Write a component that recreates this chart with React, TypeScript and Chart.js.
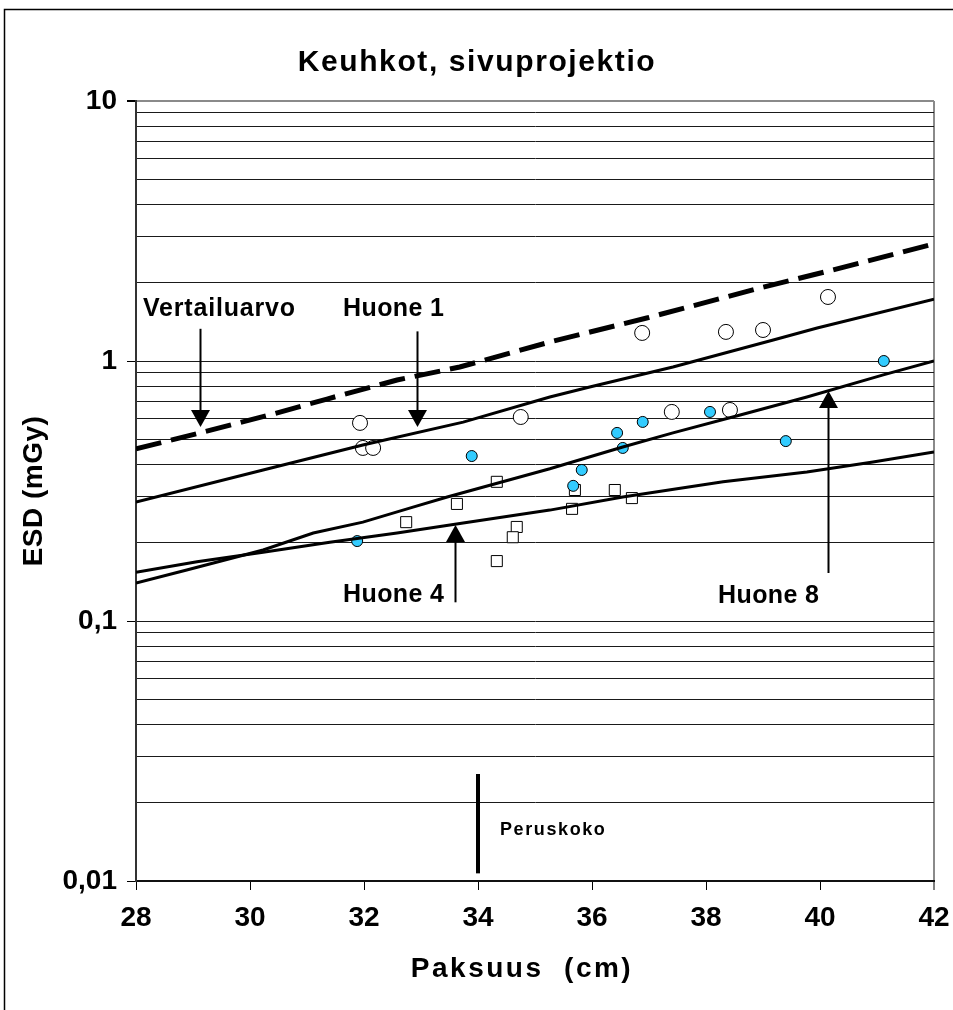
import React, { useEffect, useRef } from 'react';
import { Chart, registerables } from 'chart.js';

Chart.register(...registerables);

const FONT = "'Liberation Sans', Arial, sans-serif";

// Axes
const X_MIN = 28;
const X_MAX = 42;
const X_STEP = 2;
const Y_MIN = 0.01;
const Y_MAX = 10;
const Y_DECADES = [0.01, 0.1, 1];
const Y_MULTIPLIERS = [1, 2, 3, 4, 5, 6, 7, 8, 9];
const Y_MAJOR_VALUES = [0.01, 0.1, 1, 10];
const Y_MAJOR_LABELS = ['0,01', '0,1', '1', '10'];

// Huone 1 (open circles)
const HUONE1_X = [31.93, 31.98, 32.16, 34.75, 36.88, 37.4, 38.35, 38.42, 39.0, 40.14];
const HUONE1_Y = [0.578, 0.463, 0.463, 0.609, 1.282, 0.637, 1.294, 0.648, 1.316, 1.763];

// Huone 8 (cyan circles)
const HUONE8_X = [31.88, 33.89, 35.67, 35.82, 36.44, 36.54, 36.89, 38.07, 39.4, 41.12];
const HUONE8_Y = [0.203, 0.431, 0.331, 0.381, 0.529, 0.463, 0.583, 0.637, 0.492, 1.0];

// Huone 4 (open squares)
const HUONE4_X = [32.74, 33.63, 34.33, 34.68, 34.61, 34.33, 35.7, 35.65, 36.4, 36.7];
const HUONE4_Y = [0.24, 0.282, 0.343, 0.23, 0.21, 0.17, 0.319, 0.27, 0.319, 0.297];

// Fitted lines
const VERT_LINE_X = [28, 29.12, 30.4, 31.35, 32.58, 33.68, 35.26, 36.96, 38.95, 40.23, 42];
const VERT_LINE_Y = [0.459, 0.529, 0.625, 0.714, 0.845, 0.948, 1.183, 1.463, 1.91, 2.24, 2.82];

const H1_LINE_X = [28, 30.23, 31.98, 33.74, 35.26, 35.96, 37.42, 39.18, 39.95, 42];
const H1_LINE_Y = [0.287, 0.381, 0.475, 0.582, 0.727, 0.794, 0.948, 1.205, 1.34, 1.73];

const H8_LINE_X = [28, 28.89, 30.23, 31.11, 31.98, 32.86, 33.46, 35.26, 36.54, 37.42, 38.6, 39.77, 41.11, 42];
const H8_LINE_Y = [0.14, 0.157, 0.1875, 0.218, 0.24, 0.274, 0.3, 0.385, 0.467, 0.529, 0.62, 0.727, 0.884, 1.0];

const H4_LINE_X = [28, 29.07, 30.23, 31.4, 32.58, 33.74, 35.26, 36.54, 38.3, 39.77, 40.93, 42];
const H4_LINE_Y = [0.154, 0.169, 0.184, 0.201, 0.218, 0.238, 0.267, 0.3, 0.343, 0.374, 0.409, 0.447];

// Annotation arrows (data coordinates)
const ARROW_X = [29.12, 32.93, 33.6, 40.14];
const ARROW_FROM = [1.33, 1.3, 0.118, 0.153];
const ARROW_TO = [0.557, 0.557, 0.234, 0.767];

// "Peruskoko" marker line
const PERUS_X = 34;
const PERUS_FROM = 0.0258;
const PERUS_TO = 0.0107;

const TEXTS = [
  { text: 'Vertailuarvo', x: 143, y: 316, size: 25, spacing: 0.8 },
  { text: 'Huone 1', x: 343, y: 316, size: 25, spacing: 0.4 },
  { text: 'Huone 4', x: 343, y: 602, size: 25, spacing: 0.4 },
  { text: 'Huone 8', x: 718, y: 603, size: 25, spacing: 0.4 },
  { text: 'Peruskoko', x: 500, y: 835, size: 18, spacing: 1.6 },
];

const TITLE = 'Keuhkot, sivuprojektio';
const X_TITLE = 'Paksuus  (cm)';
const Y_TITLE = 'ESD (mGy)';

const toPoints = (xs: number[], ys: number[]) => xs.map((v, i) => ({ x: v, y: ys[i] }));

const yTickValues = () => {
  const vals: number[] = [];
  Y_DECADES.forEach((d) => Y_MULTIPLIERS.forEach((m) => vals.push(d * m)));
  vals.push(Y_MAX);
  return vals;
};

const majorIndex = (v: number) =>
  Y_MAJOR_VALUES.findIndex((m) => Math.abs(Math.log10(v) - Math.log10(m)) < 1e-6);

const annotationPlugin = {
  id: 'annotations',
  afterDraw(chart: any) {
    const { ctx } = chart;
    const xs = chart.scales.x;
    const ys = chart.scales.y;
    ctx.save();
    // outer frame
    ctx.strokeStyle = '#000';
    ctx.lineWidth = 1.5;
    ctx.beginPath();
    ctx.moveTo(4.5, 1010);
    ctx.lineTo(4.5, 9.5);
    ctx.lineTo(953, 9.5);
    ctx.stroke();

    ctx.fillStyle = '#000';
    // title
    ctx.font = `bold 30px ${FONT}`;
    ctx.letterSpacing = '1.6px';
    ctx.textAlign = 'center';
    ctx.textBaseline = 'alphabetic';
    ctx.fillText(TITLE, 477, 71);

    // x title
    ctx.font = `bold 28px ${FONT}`;
    ctx.letterSpacing = '2.5px';
    ctx.textAlign = 'center';
    ctx.fillText(X_TITLE, 522, 977);

    // y title
    ctx.save();
    ctx.translate(33, 491);
    ctx.rotate(-Math.PI / 2);
    ctx.letterSpacing = '0.5px';
    ctx.textAlign = 'center';
    ctx.textBaseline = 'middle';
    ctx.fillText(Y_TITLE, 0, 1);
    ctx.restore();

    // annotation texts
    TEXTS.forEach((t) => {
      ctx.font = `bold ${t.size}px ${FONT}`;
      ctx.letterSpacing = `${t.spacing}px`;
      ctx.textAlign = 'left';
      ctx.textBaseline = 'alphabetic';
      ctx.fillText(t.text, t.x, t.y);
    });
    ctx.letterSpacing = '0px';

    // arrows
    ctx.strokeStyle = '#000';
    ARROW_X.forEach((ax, i) => {
      const px = Math.round(xs.getPixelForValue(ax)) + 0.5;
      const y0 = ys.getPixelForValue(ARROW_FROM[i]);
      const y1 = ys.getPixelForValue(ARROW_TO[i]);
      const dir = Math.sign(y1 - y0);
      const headLen = 17;
      const headHalf = 9.5;
      ctx.lineWidth = 2;
      ctx.beginPath();
      ctx.moveTo(px, y0);
      ctx.lineTo(px, y1 - dir * headLen);
      ctx.stroke();
      ctx.beginPath();
      ctx.moveTo(px, y1);
      ctx.lineTo(px - headHalf, y1 - dir * headLen);
      ctx.lineTo(px + headHalf, y1 - dir * headLen);
      ctx.closePath();
      ctx.fill();
    });

    // Peruskoko line
    const pp = xs.getPixelForValue(PERUS_X);
    ctx.lineWidth = 4;
    ctx.beginPath();
    ctx.moveTo(pp, ys.getPixelForValue(PERUS_FROM));
    ctx.lineTo(pp, ys.getPixelForValue(PERUS_TO));
    ctx.stroke();
    ctx.restore();
  },
};

export default function App() {
  const canvasRef = useRef<HTMLCanvasElement | null>(null);

  useEffect(() => {
    const canvas = canvasRef.current;
    if (!canvas) return;
    Chart.defaults.font.family = FONT;

    const lineDs = (label: string, xs: number[], ys: number[], width: number, dash: number[]) => ({
      label,
      data: toPoints(xs, ys),
      showLine: true,
      borderColor: '#000',
      backgroundColor: '#000',
      borderWidth: width,
      borderDash: dash,
      pointRadius: 0,
      tension: 0,
      order: 0,
    });

    const chart = new Chart(canvas, {
      type: 'scatter',
      data: {
        datasets: [
          lineDs('Vertailuarvo', VERT_LINE_X, VERT_LINE_Y, 5, [26, 10]),
          lineDs('Huone 1 sovite', H1_LINE_X, H1_LINE_Y, 3, []),
          lineDs('Huone 8 sovite', H8_LINE_X, H8_LINE_Y, 3, []),
          lineDs('Huone 4 sovite', H4_LINE_X, H4_LINE_Y, 3, []),
          {
            label: 'Huone 8',
            data: toPoints(HUONE8_X, HUONE8_Y),
            pointStyle: 'circle',
            pointRadius: 5.5,
            backgroundColor: '#33CCFF',
            borderColor: '#000',
            borderWidth: 1,
            order: 1,
          },
          {
            label: 'Huone 1',
            data: toPoints(HUONE1_X, HUONE1_Y),
            pointStyle: 'circle',
            pointRadius: 7.5,
            backgroundColor: '#fff',
            borderColor: '#000',
            borderWidth: 1,
            order: 2,
          },
          {
            label: 'Huone 4',
            data: toPoints(HUONE4_X, HUONE4_Y),
            pointStyle: 'rect',
            pointRadius: 7.8,
            backgroundColor: '#fff',
            borderColor: '#000',
            borderWidth: 1,
            order: 3,
          },
        ],
      } as any,
      options: {
        animation: false,
        responsive: false,
        maintainAspectRatio: false,
        events: [],
        layout: { padding: { left: 0, right: 19, top: 101, bottom: 0 } },
        plugins: {
          legend: { display: false },
          tooltip: { enabled: false },
          title: { display: false },
        },
        scales: {
          x: {
            type: 'linear',
            min: X_MIN,
            max: X_MAX,
            afterFit: (s: any) => {
              s.height = 129;
              s.paddingLeft = 0;
              s.paddingRight = 0;
            },
            ticks: {
              stepSize: X_STEP,
              autoSkip: false,
              maxRotation: 0,
              color: '#000',
              padding: 11,
              font: { size: 28, weight: 'bold', family: FONT },
            },
            grid: {
              color: (c: any) => (c.tick && c.tick.value === X_MAX ? '#8a8a8a' : 'rgba(0,0,0,0)'),
              lineWidth: (c: any) => (c.tick && c.tick.value === X_MAX ? 2 : 1),
              tickColor: '#000',
              tickLength: 9,
              tickWidth: 1,
              drawTicks: true,
            },
            border: { color: '#111', width: 2 },
          },
          y: {
            type: 'logarithmic',
            min: Y_MIN,
            max: Y_MAX,
            afterFit: (s: any) => {
              s.width = 136;
              s.paddingTop = 0;
              s.paddingBottom = 0;
            },
            afterBuildTicks: (s: any) => {
              s.ticks = yTickValues().map((v) => ({ value: v }));
            },
            ticks: {
              autoSkip: false,
              color: '#000',
              padding: 10,
              font: { size: 28, weight: 'bold', family: FONT },
              callback: (v: any) => {
                const idx = majorIndex(Number(v));
                return idx >= 0 ? Y_MAJOR_LABELS[idx] : '';
              },
            },
            grid: {
              color: (c: any) =>
                c.tick && Math.abs(c.tick.value - Y_MAX) < 1e-9 ? '#8a8a8a' : '#1a1a1a',
              lineWidth: (c: any) => (c.tick && Math.abs(c.tick.value - Y_MAX) < 1e-9 ? 2 : 1),
              tickColor: (c: any) =>
                c.tick && majorIndex(c.tick.value) >= 0 ? '#000' : 'rgba(0,0,0,0)',
              tickLength: 9,
              drawTicks: true,
            },
            border: { color: '#333', width: 2 },
          },
        },
      } as any,
      plugins: [annotationPlugin],
    });

    return () => chart.destroy();
  }, []);

  return (
    <div style={{ position: 'absolute', left: 0, top: 0, width: 953, height: 1010, background: '#fff' }}>
      <canvas ref={canvasRef} width={953} height={1010} style={{ display: 'block' }} />
    </div>
  );
}
